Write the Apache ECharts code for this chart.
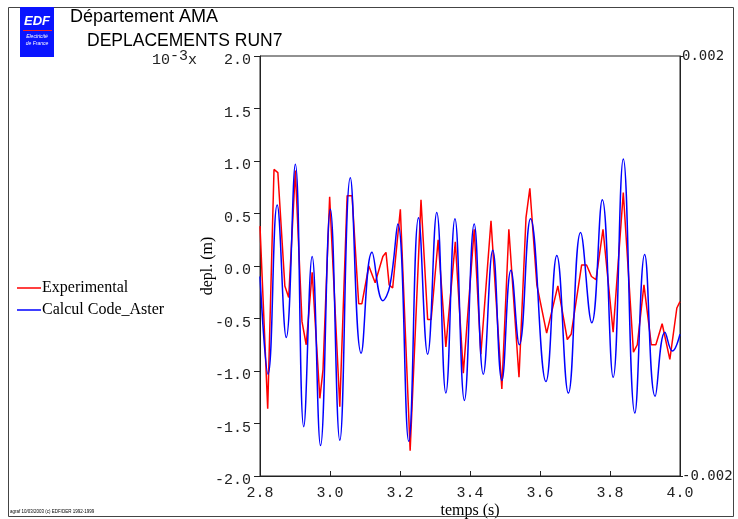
<!DOCTYPE html>
<html>
<head>
<meta charset="utf-8">
<script src="https://cdn.jsdelivr.net/npm/echarts@6/dist/echarts.min.js"></script>
<style>
html,body{margin:0;padding:0;background:#fff;}
#chart{width:738px;height:519px;}
</style>
</head>
<body>
<div id="chart"></div>
<script>
// ---- data (depl. in 10^-3 m, time in s) ----
var expT = [2.800,2.822,2.840,2.851,2.871,2.882,2.901,2.920,2.932,2.949,2.971,2.980,2.999,3.028,3.049,3.063,3.082,3.091,3.111,3.129,3.151,3.160,3.169,3.179,3.201,3.229,3.260,3.279,3.289,3.309,3.331,3.358,3.381,3.412,3.431,3.460,3.491,3.511,3.540,3.560,3.571,3.591,3.619,3.651,3.678,3.689,3.719,3.733,3.747,3.760,3.780,3.809,3.838,3.867,3.878,3.897,3.918,3.931,3.949,3.971,3.991,4.000];
var expV = [0.38,-1.36,0.92,0.89,-0.19,-0.30,0.91,-0.53,-0.75,-0.06,-1.26,-0.99,0.66,-1.34,0.67,0.67,-0.36,-0.36,0.00,-0.16,0.09,0.13,-0.18,-0.21,0.54,-1.76,0.63,-0.51,-0.51,0.25,-0.77,0.23,-1.02,0.35,-0.84,0.43,-1.17,0.35,-1.06,0.46,0.74,-0.18,-0.64,-0.19,-0.70,-0.65,0.01,0.01,-0.10,-0.13,0.35,-0.63,0.70,-0.82,-0.75,-0.18,-0.75,-0.75,-0.55,-0.89,-0.40,-0.34];
var calT = [2.800,2.823,2.849,2.875,2.901,2.925,2.949,2.973,3.001,3.028,3.058,3.089,3.120,3.151,3.171,3.194,3.225,3.253,3.279,3.305,3.331,3.357,3.384,3.412,3.438,3.465,3.491,3.517,3.541,3.573,3.617,3.648,3.681,3.716,3.748,3.778,3.809,3.838,3.871,3.899,3.929,3.957,3.978,4.000];
var calV = [-0.10,-1.03,0.58,-0.68,0.97,-1.53,0.09,-1.71,0.54,-1.66,0.84,-0.83,0.13,-0.33,-0.19,0.40,-1.67,0.46,-0.84,0.51,-1.21,0.45,-1.28,0.40,-1.03,0.15,-1.09,-0.04,-0.75,0.45,-1.10,0.10,-1.21,0.32,-0.54,0.63,-1.06,1.02,-1.40,0.11,-1.24,-0.63,-0.81,-0.65];
var xTicks = [2.8, 3.0, 3.2, 3.4, 3.6, 3.8, 4.0];
var leftTicks = [-2.0, -1.5, -1.0, -0.5, 0.0, 0.5, 1.0, 1.5, 2.0];
var rightTicks = [-0.002, 0.002];
var seriesNames = ['Experimental', 'Calcul Code_Aster'];

function pairs(t, v){ return t.map(function(x,i){ return [x, v[i]]; }); }

var chart = echarts.init(document.getElementById('chart'), null, {renderer:'canvas'});
var mono = 'Liberation Mono';
var serif = 'Liberation Serif';
var axisCol = '#222';

chart.setOption({
  animation: false,
  backgroundColor: '#fff',
  grid: {left: 260, right: 58, top: 56, bottom: 43, containLabel: false, outerBoundsMode: 'none',
    show: true, borderColor: axisCol, borderWidth: 1, backgroundColor: 'transparent'},
  legend: {
    orient: 'vertical', left: 12, top: 275, data: seriesNames,
    icon: 'rect', itemWidth: 24, itemHeight: 1.5, itemGap: 6,
    textStyle: {fontFamily: serif, fontSize: 16, color: '#000', padding: [0,0,0,-4]}
  },
  xAxis: {
    type: 'value', min: 2.8, max: 4.0, interval: 0.2,
    name: 'temps (s)', nameLocation: 'middle', nameGap: 27, nameMoveOverlap: false,
    nameTextStyle: {fontFamily: serif, fontSize: 16, color: '#000'},
    axisLine: {show: true, onZero: false, lineStyle: {color: axisCol, width: 1}},
    axisTick: {show: true, inside: true, length: 5, lineStyle: {color: axisCol}},
    axisLabel: {fontFamily: mono, fontSize: 15, color: '#222', margin: 10,
      formatter: function(v){ return v.toFixed(1); }},
    splitLine: {show: false}
  },
  yAxis: [{
    type: 'value', min: -2, max: 2, interval: 0.5, position: 'left',
    name: 'depl. (m)', nameLocation: 'middle', nameGap: 44, nameRotate: 90, nameMoveOverlap: false,
    nameTextStyle: {fontFamily: serif, fontSize: 16, color: '#000'},
    axisLine: {show: true, onZero: false, lineStyle: {color: axisCol, width: 1}},
    axisTick: {show: true, inside: false, length: 6, lineStyle: {color: axisCol}},
    axisLabel: {fontFamily: mono, fontSize: 15, color: '#222', margin: 9,
      formatter: function(v){
        var s = v.toFixed(1);
        if (Math.abs(v - 2) < 1e-9) return '{a|10}{s|-3}{a|x   ' + s + '}';
        return '{a|' + s + '}';
      },
      rich: {
        a: {fontFamily: mono, fontSize: 15, color: '#222', padding: [9,0,0,0]},
        s: {fontFamily: mono, fontSize: 15, color: '#222', padding: [0,0,0,0]}
      }
    },
    splitLine: {show: false}
  }, {
    type: 'value', min: -0.002, max: 0.002, interval: 0.004, position: 'right',
    axisLine: {show: true, onZero: false, lineStyle: {color: axisCol, width: 1}},
    axisTick: {show: true, inside: false, length: 3, lineStyle: {color: axisCol}},
    axisLabel: {fontFamily: 'DejaVu Sans Mono', fontSize: 14, color: '#222', margin: 2,
      formatter: function(v){ return v.toFixed(3); }},
    splitLine: {show: false}
  }],
  series: [{
    name: seriesNames[0], type: 'line', data: pairs(expT, expV),
    showSymbol: false, symbol: 'none', smooth: false, color: '#ff0000',
    lineStyle: {color: '#ff0000', width: 1.5}, z: 2
  }, {
    name: seriesNames[1], type: 'line', data: pairs(calT, calV),
    showSymbol: false, symbol: 'none', smooth: 0.45, color: '#0000ff',
    lineStyle: {color: '#0000ff', width: 1.5}, z: 3
  }],
  graphic: [
    {type: 'rect', shape: {x: 8.5, y: 7.5, width: 725, height: 509}, style: {fill: 'none', stroke: '#444', lineWidth: 1}, z: 100},
    {type: 'rect', shape: {x: 20, y: 7, width: 34, height: 50}, style: {fill: '#0a14ff'}, z: 101},
    {type: 'text', x: 37, y: 15, style: {text: 'EDF', fill: '#fff', font: 'italic bold 13px "Liberation Sans"', textAlign: 'center'}, z: 102},
    {type: 'line', shape: {x1: 23, y1: 30.5, x2: 52, y2: 30.5}, style: {stroke: '#ff2020', lineWidth: 1}, z: 102},
    {type: 'text', x: 37, y: 34, style: {text: 'Electricité', fill: '#fff', font: 'italic 5px "Liberation Sans"', textAlign: 'center'}, z: 102},
    {type: 'text', x: 37, y: 41, style: {text: 'de France', fill: '#fff', font: 'italic 5px "Liberation Sans"', textAlign: 'center'}, z: 102},
    {type: 'text', x: 70, y: 8, style: {text: 'Département AMA', fill: '#000', font: '18px "Liberation Sans"'}, z: 102},
    {type: 'text', x: 87, y: 32, style: {text: 'DEPLACEMENTS RUN7', fill: '#000', font: '17.5px "Liberation Sans"'}, z: 102},
    {type: 'text', x: 10, y: 509, style: {text: 'agraf 10/03/2003 (c) EDF/DER 1992-1999', fill: '#000', font: '4.5px "Liberation Sans"'}, z: 102}
  ]
});
</script>
</body>
</html>
